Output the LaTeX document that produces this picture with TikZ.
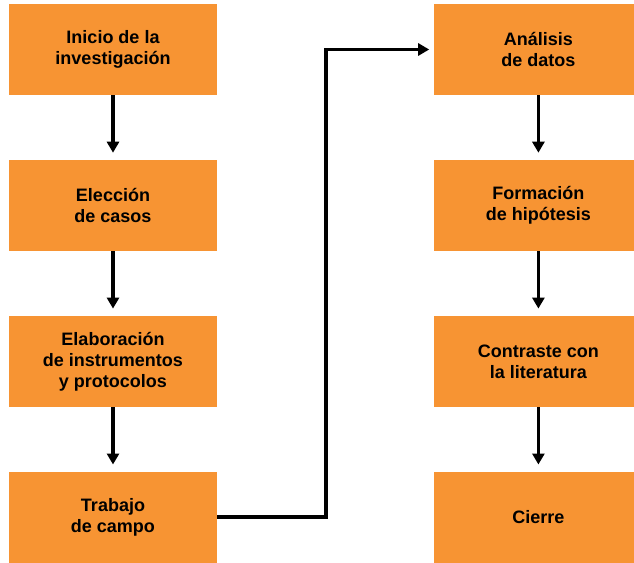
\documentclass[tikz,border=0pt]{standalone}
\usepackage{fontspec}
\setmainfont{Liberation Sans}
\usetikzlibrary{positioning,arrows.meta}
\definecolor{caja}{HTML}{F79433}
\tikzset{
  paso/.style={fill=caja, minimum width=208pt, minimum height=91pt, inner sep=0pt,
    align=center, font=\fontsize{18}{21}\selectfont\bfseries},
  flecha/.style={line width=3.5pt, -{Triangle[length=11pt,width=12pt]}}
}
\begin{document}
\begin{tikzpicture}[x=1pt,y=1pt,node distance=64.5pt and 217pt]
  \useasboundingbox (0,0) rectangle (634,-562);
  \node (inicio) [paso] at (113,-49.5) {Inicio de la\\investigación};
  \node (eleccion) [paso,below=of inicio] {Elección\\de casos};
  \node (elaboracion) [paso,below=of eleccion] {Elaboración\\de instrumentos\\y protocolos};
  \node (trabajo) [paso,below=of elaboracion] {Trabajo\\de campo};
  \node (analisis) [paso,right=of inicio] {Análisis\\de datos};
  \node (formacion) [paso,below=of analisis] {Formación\\de hipótesis};
  \node (contraste) [paso,below=of formacion] {Contraste con\\la literatura};
  \node (cierre) [paso,below=of contraste] {Cierre};
  \path[flecha, shorten >=7pt]
            (inicio) edge (eleccion)
            (eleccion) edge (elaboracion)
            (elaboracion) edge (trabajo)
            (analisis) edge (formacion)
            (formacion) edge (contraste)
            (contraste) edge (cierre)
            ;
  \draw[flecha, shorten >=5pt] (trabajo.east) -- ++(109,0) |- (analisis.west);
\end{tikzpicture}
\end{document}
